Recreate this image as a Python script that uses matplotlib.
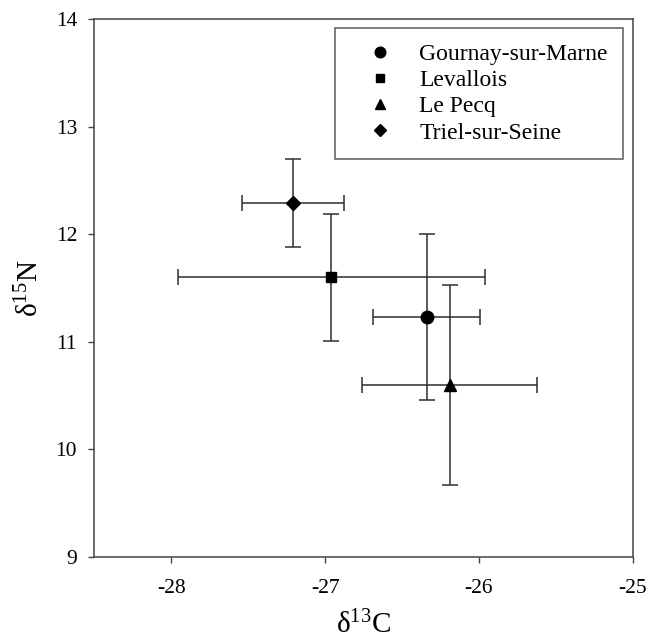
import matplotlib
matplotlib.use("Agg")
import matplotlib.pyplot as plt
from matplotlib.lines import Line2D

plt.rcParams['font.family'] = ['Liberation Serif', 'DejaVu Serif']
plt.rcParams['mathtext.fontset'] = 'custom'
plt.rcParams['mathtext.rm'] = 'Liberation Serif'
plt.rcParams['mathtext.it'] = 'Liberation Serif:italic'
plt.rcParams['mathtext.default'] = 'regular'

sites = ["Gournay-sur-Marne", "Levallois", "Le Pecq", "Triel-sur-Seine"]
markers = ["o", "s", "^", "D"]
marker_sizes = [9, 7.5, 8, 7.5]
d13C = [-26.34, -26.96, -26.19, -27.21]
d13C_err = [0.35, 1.00, 0.57, 0.33]
d15N = [11.23, 11.60, 10.60, 12.29]
d15N_err = [0.77, 0.59, 0.93, 0.41]

fig = plt.figure(figsize=(6.48, 6.41), dpi=100)
ax = fig.add_axes([0.1458, 0.1315, 0.9764 - 0.1458, 0.9704 - 0.1315])

handles = []
for name, m, ms, x, xe, y, ye in zip(sites, markers, marker_sizes, d13C, d13C_err, d15N, d15N_err):
    ax.errorbar(x, y, xerr=xe, yerr=ye, fmt='none', ecolor='#2e2e2e',
                elinewidth=1.1, capsize=5.5, capthick=1.1, zorder=2)
    ax.plot(x, y, linestyle='none', marker=m, markersize=ms, color='black', zorder=3)
    handles.append(Line2D([], [], linestyle='none', marker=m, markersize=ms * 0.85,
                          color='black', label=name))

ax.set_xlim(-28.5, -25)
ax.set_ylim(9, 14)
ax.set_xticks([-28, -27, -26, -25])
ax.set_yticks([9, 10, 11, 12, 13, 14])
ax.set_xticklabels(["-28", "-27", "-26", "-25"])
ax.tick_params(direction='out', length=4, width=1, color='#444444',
               labelsize=15.5, pad=8.5, top=False, right=False)
ax.tick_params(axis='x', pad=12)
for sp in ax.spines.values():
    sp.set_color('#444444')
    sp.set_linewidth(1.1)

ax.set_xlabel(r"δ$^{13}$C", fontsize=21, labelpad=9)
ax.set_ylabel(r"δ$^{15}$N", fontsize=21, labelpad=8)

leg = ax.legend(handles=handles, loc='upper right', bbox_to_anchor=(0.9825, 0.983),
                fontsize=17, frameon=True, fancybox=False, edgecolor='#333333',
                handlelength=2.5, handletextpad=0.44, labelspacing=0.2,
                borderpad=0.65, borderaxespad=0)
leg.get_frame().set_linewidth(1.1)

fig.savefig("out.png", dpi=100)
